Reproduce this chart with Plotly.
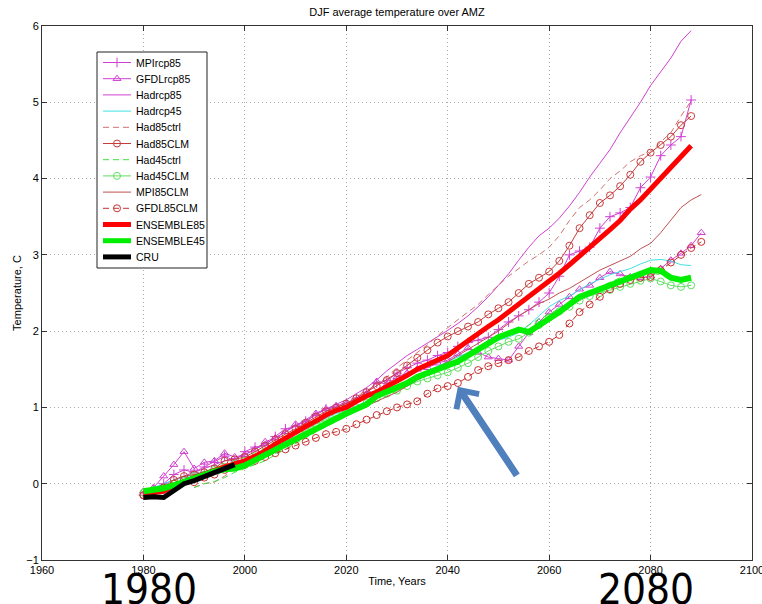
import plotly.graph_objects as go

YEARS = list(range(1980, 2091, 2))  # 1980..2090

MPIrcp85 = [-0.15, -0.08, 0.0, 0.12, 0.18, 0.15, 0.22, 0.28, 0.36, 0.3,
            0.42, 0.48, 0.5, 0.62, 0.72, 0.75, 0.82, 0.9, 0.98, 1.0,
            1.05, 1.12, 1.2, 1.32, 1.35, 1.45, 1.52, 1.58, 1.62, 1.68,
            1.72, 1.8, 1.85, 1.88, 1.92, 2.02, 2.12, 2.2, 2.28, 2.38,
            2.5, 2.72, 3.0, 3.05, 3.1, 3.35, 3.5, 3.55, 3.62, 3.88,
            4.02, 4.3, 4.44, 4.55, 5.03, None]
GFDLrcp85 = [-0.1, -0.05, 0.1, 0.25, 0.42, 0.2, 0.28, 0.3, 0.4, 0.35,
             0.38, 0.45, 0.55, 0.6, 0.68, 0.78, 0.8, 0.92, 0.98, 1.02,
             1.05, 1.1, 1.18, 1.34, 1.3, 1.4, 1.45, 1.5, 1.52, 1.58,
             1.62, 1.7, 1.78, 1.72, 1.66, 1.64, 1.62, 1.8, 1.98, 2.12,
             2.25, 2.35, 2.45, 2.55, 2.6, 2.7, 2.78, 2.75, 2.71, 2.7,
             2.72, 2.82, 2.93, 3.02, 3.12, 3.29]
Hadrcp85 = [-0.12, -0.06, 0.0, 0.05, 0.1, 0.15, 0.2, 0.25, 0.3, 0.33,
            0.38, 0.45, 0.52, 0.6, 0.68, 0.76, 0.85, 0.92, 0.98, 1.04,
            1.1, 1.18, 1.26, 1.36, 1.48, 1.58, 1.68, 1.76, 1.84, 1.93,
            2.01, 2.1, 2.2, 2.32, 2.45, 2.6, 2.75, 2.93, 3.1, 3.25,
            3.35, 3.48, 3.64, 3.82, 4.02, 4.2, 4.38, 4.6, 4.8, 5.0,
            5.22, 5.4, 5.58, 5.8, 5.94, None]
Hadrcp45 = [-0.1, -0.05, 0.0, 0.05, 0.08, 0.12, 0.16, 0.2, 0.24, 0.27,
            0.32, 0.38, 0.45, 0.52, 0.6, 0.66, 0.72, 0.8, 0.86, 0.92,
            0.96, 1.02, 1.08, 1.14, 1.2, 1.26, 1.32, 1.4, 1.48, 1.54,
            1.6, 1.66, 1.72, 1.78, 1.82, 1.88, 1.92, 1.98, 2.08, 2.2,
            2.32, 2.4, 2.46, 2.54, 2.62, 2.68, 2.74, 2.78, 2.82, 2.88,
            2.93, 2.94, 2.92, 2.87, 2.86, None]
Had85ctrl = [None, None, None, None, None, -0.05, 0.0, 0.02, 0.1, 0.2,
             0.3, 0.38, 0.45, 0.52, 0.6, 0.68, 0.76, 0.85, 0.92, 1.0,
             1.06, 1.14, 1.22, 1.3, 1.4, 1.52, 1.62, 1.72, 1.82, 1.94,
             2.05, 2.15, 2.25, 2.35, 2.48, 2.6, 2.72, 2.82, 2.92, 3.0,
             3.1, 3.25, 3.45, 3.62, 3.72, 3.85, 4.0, 4.1, 4.22, 4.3,
             4.35, 4.48, 4.6, 4.82, 5.02, None]
Had85CLM = [-0.15, -0.1, -0.05, 0.05, 0.1, 0.12, 0.15, 0.2, 0.3, 0.32,
            0.35, 0.42, 0.5, 0.58, 0.65, 0.72, 0.8, 0.88, 0.95, 1.0,
            1.05, 1.12, 1.2, 1.28, 1.36, 1.45, 1.55, 1.65, 1.75, 1.85,
            1.93, 2.0, 2.06, 2.12, 2.22, 2.3, 2.38, 2.5, 2.62, 2.7,
            2.78, 2.92, 3.12, 3.35, 3.52, 3.68, 3.78, 3.9, 4.05, 4.22,
            4.34, 4.44, 4.55, 4.7, 4.82, None]
Had45ctrl = [None, None, None, None, None, -0.05, 0.0, 0.03, 0.08, 0.15,
             0.2, 0.25, 0.3, 0.38, 0.45, 0.52, 0.6, 0.68, 0.75, 0.82,
             0.88, 0.95, 1.02, 1.08, 1.15, 1.22, 1.3, 1.36, 1.42, 1.48,
             1.54, 1.6, 1.68, 1.75, 1.85, 1.9, 1.95, 2.0, 2.08, 2.16,
             2.22, 2.3, 2.38, 2.46, 2.52, 2.58, 2.64, 2.7, 2.74, 2.76,
             2.76, 2.74, 2.7, 2.7, 2.72, None]
Had45CLM = [-0.12, -0.08, -0.05, 0.0, 0.05, 0.1, 0.12, 0.18, 0.22, 0.26,
            0.3, 0.36, 0.42, 0.5, 0.56, 0.62, 0.7, 0.78, 0.84, 0.9,
            0.95, 1.0, 1.06, 1.12, 1.18, 1.22, 1.28, 1.34, 1.38, 1.42,
            1.46, 1.52, 1.58, 1.66, 1.74, 1.8, 1.86, 1.9, 1.98, 2.08,
            2.18, 2.26, 2.32, 2.4, 2.46, 2.5, 2.54, 2.58, 2.62, 2.66,
            2.69, 2.65, 2.6, 2.58, 2.6, None]
MPI85CLM = [-0.15, -0.12, -0.08, -0.02, 0.02, 0.05, 0.1, 0.15, 0.18, 0.22,
            0.28, 0.34, 0.4, 0.46, 0.52, 0.58, 0.64, 0.7, 0.78, 0.84,
            0.9, 0.96, 1.02, 1.08, 1.14, 1.2, 1.28, 1.36, 1.44, 1.52,
            1.6, 1.68, 1.76, 1.84, 1.92, 2.0, 2.1, 2.2, 2.28, 2.36,
            2.42, 2.5, 2.56, 2.64, 2.72, 2.8, 2.86, 2.92, 2.98, 3.08,
            3.15, 3.29, 3.45, 3.62, 3.72, 3.79]
GFDL85CLM = [-0.15, -0.1, -0.05, 0.0, 0.05, 0.02, 0.08, 0.12, 0.18, 0.22,
             0.25, 0.3, 0.35, 0.4, 0.45, 0.5, 0.55, 0.6, 0.65, 0.68,
             0.72, 0.78, 0.84, 0.9, 0.95, 1.0, 1.04, 1.08, 1.18, 1.25,
             1.28, 1.32, 1.4, 1.49, 1.54, 1.58, 1.62, 1.66, 1.74, 1.8,
             1.86, 1.95, 2.1, 2.25, 2.35, 2.45, 2.55, 2.62, 2.67, 2.7,
             2.71, 2.8, 2.9, 3.0, 3.09, 3.17]
ENSEMBLE85 = [-0.13, -0.12, -0.1, -0.02, 0.02, 0.08, 0.13, 0.18, 0.22, 0.26,
              0.3, 0.36, 0.43, 0.52, 0.6, 0.68, 0.75, 0.82, 0.9, 0.96,
              1.0, 1.08, 1.15, 1.2, 1.27, 1.34, 1.42, 1.5, 1.56, 1.62,
              1.68, 1.78, 1.88, 1.96, 2.06, 2.15, 2.25, 2.36, 2.45, 2.54,
              2.65, 2.76, 2.87, 2.98, 3.1, 3.22, 3.33, 3.45, 3.6, 3.72,
              3.86, 4.0, 4.13, 4.28, 4.43, None]
ENSEMBLE45 = [-0.1, -0.08, -0.06, -0.02, 0.03, 0.08, 0.12, 0.16, 0.19, 0.2,
              0.24, 0.31, 0.37, 0.45, 0.52, 0.58, 0.65, 0.72, 0.8, 0.86,
              0.92, 0.98, 1.04, 1.15, 1.2, 1.26, 1.32, 1.4, 1.45, 1.5,
              1.53, 1.6, 1.68, 1.75, 1.84, 1.92, 1.97, 2.02, 1.99, 2.07,
              2.15, 2.25, 2.35, 2.45, 2.5, 2.55, 2.6, 2.66, 2.71, 2.76,
              2.8, 2.79, 2.7, 2.67, 2.7, None]
CRU = [-0.18, -0.17, -0.18, -0.08, 0.0, 0.04, 0.09, 0.14, 0.2, 0.25] + [None] * 46

SERIES_NAMES = ["MPIrcp85", "GFDLrcp85", "Hadrcp85", "Hadrcp45", "Had85ctrl",
                "Had85CLM", "Had45ctrl", "Had45CLM", "MPI85CLM", "GFDL85CLM",
                "ENSEMBLE85", "ENSEMBLE45", "CRU"]
SERIES_VALUES = [MPIrcp85, GFDLrcp85, Hadrcp85, Hadrcp45, Had85ctrl,
                 Had85CLM, Had45ctrl, Had45CLM, MPI85CLM, GFDL85CLM,
                 ENSEMBLE85, ENSEMBLE45, CRU]

DASH = "6px,4px"
STYLES = [
    ("#d040d0", 1, "solid", "cross-thin-open"),
    ("#d040d0", 1, "solid", "triangle-up-open"),
    ("#d040d0", 1, "solid", None),
    ("#40e0e0", 1, "solid", None),
    ("#d07070", 1, DASH, None),
    ("#c83c3c", 1, "solid", "circle-open"),
    ("#40e040", 1, DASH, None),
    ("#60dd60", 1, "solid", "circle-open"),
    ("#c05050", 1, "solid", None),
    ("#c83030", 1, DASH, "circle-open"),
    ("#ff0000", 5, "solid", None),
    ("#00ee00", 6, "solid", None),
    ("#000000", 5, "solid", None),
]

FONT = "Liberation Sans"
BIGFONT = "DejaVu Sans Condensed"

fig = go.Figure()
for name, vals, (color, width, dash, symbol) in zip(SERIES_NAMES, SERIES_VALUES, STYLES):
    kw = {}
    mode = "lines"
    if symbol:
        mode = "lines+markers"
        kw["marker"] = dict(symbol=symbol, size=7, color=color,
                            line=dict(color=color, width=1))
    fig.add_trace(go.Scatter(x=YEARS, y=vals, name=name, mode=mode,
                             line=dict(color=color, width=width, dash=dash),
                             connectgaps=False, showlegend=False,
                             xaxis="x", yaxis="y", **kw))

# ---- custom legend on a pixel-unit overlay axis (x: px from plot left, y: px from plot top)
LEG_BOX = dict(x0=55, x1=165, y0=26, y1=242)
LEG_ROW0, LEG_ROWSTEP = 36.5, 16.2
LEG_LINE_X = (61, 89)
LEG_TEXT_X = 92

bx = [LEG_BOX["x0"], LEG_BOX["x1"], LEG_BOX["x1"], LEG_BOX["x0"], LEG_BOX["x0"]]
by = [LEG_BOX["y0"], LEG_BOX["y0"], LEG_BOX["y1"], LEG_BOX["y1"], LEG_BOX["y0"]]
fig.add_trace(go.Scatter(x=bx, y=by, mode="lines", fill="toself", fillcolor="white",
                         line=dict(color="#222222", width=1), showlegend=False,
                         hoverinfo="skip", xaxis="x2", yaxis="y2"))
for i, (name, (color, width, dash, symbol)) in enumerate(zip(SERIES_NAMES, STYLES)):
    yc = LEG_ROW0 + LEG_ROWSTEP * i
    fig.add_trace(go.Scatter(x=list(LEG_LINE_X), y=[yc, yc], mode="lines",
                             line=dict(color=color, width=min(width, 5), dash=dash),
                             showlegend=False, hoverinfo="skip", xaxis="x2", yaxis="y2"))
    if symbol:
        fig.add_trace(go.Scatter(x=[sum(LEG_LINE_X) / 2], y=[yc], mode="markers",
                                 marker=dict(symbol=symbol, size=7, color=color,
                                             line=dict(color=color, width=1)),
                                 showlegend=False, hoverinfo="skip", xaxis="x2", yaxis="y2"))
    fig.add_annotation(x=LEG_TEXT_X, y=yc, xref="x2", yref="y2", text=name,
                       showarrow=False, xanchor="left", yanchor="middle",
                       font=dict(family=FONT, size=10.5, color="#000"))

axis_common = dict(showline=True, linecolor="#333333", linewidth=1, mirror="ticks",
                   ticks="inside", ticklen=5, tickcolor="#333333",
                   showgrid=True, gridcolor="#aaaaaa", griddash="1px,3px", gridwidth=1,
                   zeroline=False, ticklabeloverflow="allow", automargin=False,
                   tickfont=dict(family=FONT, size=11, color="#000"))

fig.update_layout(
    width=762, height=604,
    margin=dict(l=42, r=10, t=26, b=44, autoexpand=False),
    paper_bgcolor="white", plot_bgcolor="white",
    font=dict(family=FONT, size=11, color="#000"),
    title=dict(text="DJF average temperature over AMZ", x=0.521, xanchor="center",
               y=0.98, yanchor="middle", font=dict(size=11)),
    xaxis=dict(range=[1960, 2100], dtick=20, tick0=1960,
               title=dict(text="Time, Years", standoff=2, font=dict(size=11)),
               **axis_common),
    yaxis=dict(range=[-1, 6], dtick=1, tick0=-1,
               title=dict(text="Temperature, C", standoff=2, font=dict(size=11)),
               **axis_common),
    xaxis2=dict(overlaying="x", range=[0, 710], visible=False, fixedrange=True),
    yaxis2=dict(overlaying="y", range=[534, 0], visible=False, fixedrange=True),
    showlegend=False,
)

fig.add_annotation(x=2042, y=1.27, xref="x", yref="y", ax=60, ay=90,
                   text="", showarrow=True, arrowhead=4, arrowsize=0.75,
                   arrowwidth=7, arrowcolor="#4f7fbd", standoff=0)

# big year labels below the axis (pixel centres within the figure)
BIG_LABELS = ["1980", "2080"]
BIG_X_PX = [149, 646]
BIG_TOP_PX = 563
PLOT_L, PLOT_W, PLOT_B, PLOT_H = 42, 710, 560, 534
for lab, bxp in zip(BIG_LABELS, BIG_X_PX):
    fig.add_annotation(x=(bxp - PLOT_L) / PLOT_W, y=(PLOT_B - BIG_TOP_PX) / PLOT_H,
                       xref="paper", yref="paper", text=lab,
                       showarrow=False, xanchor="center", yanchor="top",
                       font=dict(family=BIGFONT, size=42, color="#000"))

fig.write_html("out.html")
